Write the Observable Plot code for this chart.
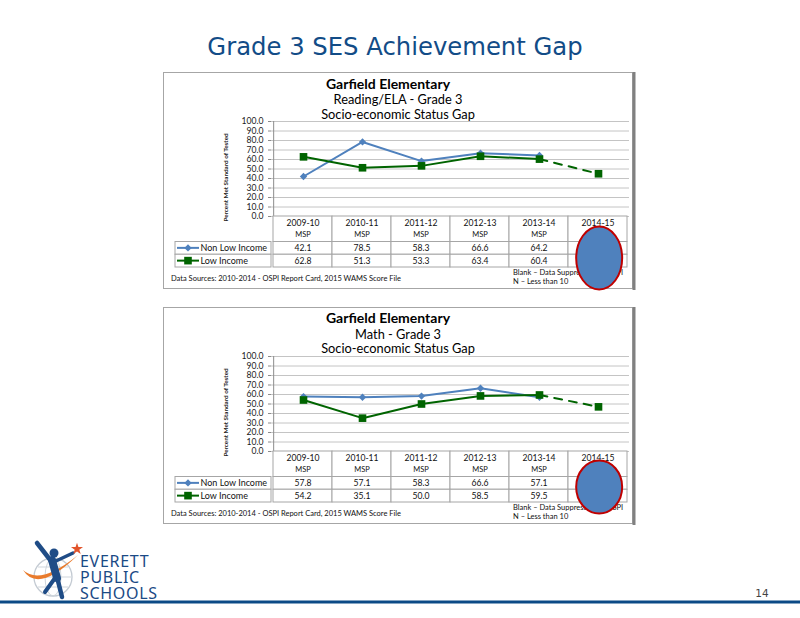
<!DOCTYPE html>
<html><head><meta charset="utf-8">
<script src="https://cdn.jsdelivr.net/npm/d3@7"></script>
<script src="https://cdn.jsdelivr.net/npm/@observablehq/plot@0.6"></script>
<style>
html,body{margin:0;padding:0;background:#fff;}
#page{position:relative;width:800px;height:618px;overflow:hidden;background:#fff;}
#page svg{position:absolute;}
</style></head><body><div id="page"></div>
<script>
// ---------- data ----------
const years = ["2009-10", "2010-11", "2011-12", "2012-13", "2013-14", "2014-15"];
const testNames = ["MSP", "MSP", "MSP", "MSP", "MSP", ""];
const seriesNames = ["Non Low Income", "Low Income"];
const readingNonLow = [42.1, 78.5, 58.3, 66.6, 64.2, null];
const readingLow = [62.8, 51.3, 53.3, 63.4, 60.4, 45.0];
const mathNonLow = [57.8, 57.1, 58.3, 66.6, 57.1, null];
const mathLow = [54.2, 35.1, 50.0, 58.5, 59.5, 47.0];
const yTicks = [0, 10, 20, 30, 40, 50, 60, 70, 80, 90, 100];
const pageTitle = "Grade 3 SES Achievement Gap";
const school = "Garfield Elementary";
const subjects = ["Reading/ELA - Grade 3", "Math - Grade 3"];
const chartSubtitle = "Socio-economic Status Gap";
const yLabel = "Percent Met Standard of Tested";
const sourceNote = "Data Sources: 2010-2014 - OSPI Report Card, 2015 WAMS Score File";
const blankNotes = ["Blank \u2013 Data Suppressed by OSPI", "N \u2013 Less than 10"];
const pageNumber = "14";
const logoLines = ["EVERETT", "PUBLIC", "SCHOOLS"];

// ---------- style ----------
const BLUE = "#4F81BD", GREEN = "#006400", GRID = "#c4c4c4", AXIS = "#8c8c8c", CELL = "#a6a6a6";
const NAVY = "#124C87", FONT = "Lato, sans-serif";
const W = 472, L = 108, R = 466;

const page = d3.select("#page");
const bg = page.append("svg").attr("width", 800).attr("height", 618).style("left", "0px").style("top", "0px");

// page title
bg.append("text").attr("x", 395).attr("y", 54.5).attr("text-anchor", "middle")
  .style("font-family", "'DejaVu Sans'").style("font-size", "24.3px").attr("fill", NAVY).text(pageTitle);

// bottom rule & page number
bg.append("rect").attr("x", 0).attr("y", 600.5).attr("width", 800).attr("height", 3).attr("fill", "#0B4A86");
bg.append("text").attr("x", 762).attr("y", 597).attr("text-anchor", "middle")
  .style("font-family", "'DejaVu Sans'").style("font-size", "10.5px").attr("fill", "#444").text(pageNumber);

// logo
const logo = bg.append("g");
logo.append("circle").attr("cx", 53).attr("cy", 577).attr("r", 19).attr("fill", "none").attr("stroke", "#c3cad2").attr("stroke-width", 1.3);
logo.append("ellipse").attr("cx", 53).attr("cy", 577).attr("rx", 8).attr("ry", 19).attr("fill", "none").attr("stroke", "#cfd5db").attr("stroke-width", 1);
logo.append("line").attr("x1", 35).attr("x2", 71).attr("y1", 577).attr("y2", 577).attr("stroke", "#cfd5db");
logo.append("line").attr("x1", 38).attr("x2", 68).attr("y1", 567).attr("y2", 567).attr("stroke", "#cfd5db");
logo.append("line").attr("x1", 38).attr("x2", 68).attr("y1", 587).attr("y2", 587).attr("stroke", "#cfd5db");
logo.append("path").attr("d", "M23,570 Q38,594 78,555 Q40,586 23,570 Z").attr("fill", "#E97B2C");
logo.append("circle").attr("cx", 54).attr("cy", 553).attr("r", 4.5).attr("fill", "#1F4C86");
logo.append("path").attr("d", "M37,543 L51,561").attr("stroke", "#1F4C86").attr("stroke-width", 4.5).attr("stroke-linecap", "round");
logo.append("path").attr("d", "M56,561 L73,553").attr("stroke", "#1F4C86").attr("stroke-width", 3.5).attr("stroke-linecap", "round");
logo.append("path").attr("d", "M52,560 L57,578").attr("stroke", "#1F4C86").attr("stroke-width", 8).attr("stroke-linecap", "round");
logo.append("path").attr("d", "M57,577 L62,597").attr("stroke", "#1F4C86").attr("stroke-width", 4.5).attr("stroke-linecap", "round");
logo.append("path").attr("d", "M55,578 L45,592").attr("stroke", "#1F4C86").attr("stroke-width", 4).attr("stroke-linecap", "round");
logo.append("path").attr("transform", "translate(77,549)").attr("d", d3.symbol(d3.symbolStar, 45)()).attr("fill", "#E2542B");
const logoText = logo.append("text").style("font-family", "'Noto Sans'").style("font-size", "16px")
  .style("letter-spacing", "0.7px").attr("fill", "#1B4A85");
logoLines.forEach((t, i) => {
  logoText.append("tspan").attr("x", 80).attr("y", 566.5 + i * 16).text(t);
});

const overlays = [];

function drawChart(top, subject, titleYs, nonLow, low, ellipseRy, ellipseCy) {
  // box, titles, notes
  const g = bg.append("g").attr("transform", `translate(163,${top})`);
  g.append("rect").attr("x", 0.5).attr("y", 0.5).attr("width", 469).attr("height", 216)
    .attr("fill", "white").attr("stroke", "#a6a6a6");
  g.append("rect").attr("x", 469.5).attr("y", 0).attr("width", 3).attr("height", 218).attr("fill", "#808080");
  const tt = g.append("text").attr("text-anchor", "middle").style("font-family", FONT).attr("fill", "#000");
  tt.append("tspan").attr("x", 225).attr("y", titleYs[0] + 5).style("font-size", "14px").style("font-weight", "bold").text(school);
  tt.append("tspan").attr("x", 235).attr("y", titleYs[1] + 4.5).style("font-size", "12.8px").text(subject);
  tt.append("tspan").attr("x", 235).attr("y", titleYs[2] + 4.5).style("font-size", "12.8px").text(chartSubtitle);
  g.append("text").attr("x", 8).attr("y", 206.5).attr("dy", "0.35em")
    .style("font-family", FONT).style("font-size", "7.5px").attr("fill", "#111").text(sourceNote);
  const bn = g.append("text").style("font-family", FONT).style("font-size", "7.5px").attr("fill", "#111");
  blankNotes.forEach((t, i) => {
    bn.append("tspan").attr("x", 350).attr("y", 203 + i * 8.7).text(t);
  });

  const rows = years.map((year, i) => ({year, test: testNames[i], nonLow: nonLow[i], low: low[i]}));
  const nl = rows.filter(d => d.nonLow != null);
  const lastReported = nl.length - 1;
  const lowSolid = rows.slice(0, lastReported + 1);
  const lowDash = rows.slice(lastReported);
  const step = (R - L) / years.length;

  const chart = Plot.plot({
    width: W, height: 145, marginTop: 49, marginBottom: 1, marginLeft: L, marginRight: W - R,
    x: {type: "point", domain: years, padding: 0.5, axis: null},
    y: {domain: [0, 100], axis: null},
    style: {background: "transparent", fontFamily: FONT, overflow: "visible"},
    marks: [
      Plot.ruleY(yTicks, {stroke: GRID}),
      Plot.ruleX([years[0]], {y1: 0, y2: 100, dx: -step / 2, stroke: AXIS}),
      Plot.axisY(yTicks, {tickFormat: d3.format(".1f"), tickSize: 3, tickPadding: 5, stroke: AXIS, fill: "#1a1a1a", fontSize: 8.6, label: null}),
      Plot.text([yLabel], {text: d => d, frameAnchor: "left", textAnchor: "middle", rotate: -90, dx: -46, dy: 8.5, fontSize: 6.3, fontWeight: "bold", fill: "#1a1a1a"}),
      Plot.line(nl, {x: "year", y: "nonLow", stroke: BLUE, strokeWidth: 2}),
      Plot.line(lowSolid, {x: "year", y: "low", stroke: GREEN, strokeWidth: 2}),
      Plot.line(lowDash, {x: "year", y: "low", stroke: GREEN, strokeWidth: 2, strokeDasharray: "8,7"}),
      Plot.dot(nl, {x: "year", y: "nonLow", symbol: "diamond2", r: 3.3, fill: BLUE}),
      Plot.dot(rows, {x: "year", y: "low", symbol: "square", r: 4.3, fill: GREEN})
    ]
  });
  chart.style.left = "163px"; chart.style.top = top + "px";
  page.node().appendChild(chart);

  // data table
  const cells = seriesNames.flatMap((name, s) => rows.map((d, i) => ({
    name, s, year: d.year, v: s === 0 ? d.nonLow : d.low, shown: i <= lastReported
  })));
  const table = Plot.plot({
    width: W, height: 53, marginTop: 0, marginBottom: 2, marginLeft: L, marginRight: W - R,
    x: {type: "band", domain: years, padding: 0, axis: null},
    y: {domain: [0, 4], reverse: true, axis: null},
    style: {background: "transparent", fontFamily: FONT, overflow: "visible"},
    marks: [
      Plot.barY(rows, {x: "year", y1: 0, y2: 2, fill: "white", stroke: CELL}),
      Plot.barY(cells, {x: "year", y1: d => 2 + d.s, y2: d => 3 + d.s, fill: "white", stroke: CELL}),
      Plot.text(rows, {x: "year", y: 0.55, text: "year", fontSize: 8.6, fill: "#111"}),
      Plot.text(rows, {x: "year", y: 1.45, text: "test", fontSize: 7.5, fill: "#111"}),
      Plot.text(cells.filter(d => d.shown), {x: "year", y: d => 2.5 + d.s, text: d => d3.format(".1f")(d.v), fontSize: 8.6, fill: "#111"})
    ]
  });
  table.style.left = "163px"; table.style.top = (top + 144) + "px";
  page.node().appendChild(table);

  const ty = table.scale("y");
  const lg = d3.select(table).append("g").attr("text-anchor", "start");
  seriesNames.forEach((name, s) => {
    const y1 = ty.apply(2 + s), y2 = ty.apply(3 + s), ym = (y1 + y2) / 2;
    const color = s === 0 ? BLUE : GREEN;
    lg.append("rect").attr("x", 12).attr("y", y1).attr("width", L - 12).attr("height", y2 - y1)
      .attr("fill", "white").attr("stroke", CELL);
    lg.append("line").attr("x1", 14).attr("x2", 36).attr("y1", ym).attr("y2", ym)
      .attr("stroke", color).attr("stroke-width", 2);
    lg.append("path").attr("transform", `translate(25,${ym})`)
      .attr("d", d3.symbol(s === 0 ? d3.symbolDiamond2 : d3.symbolSquare, s === 0 ? 3.3 * 3.3 * Math.PI : 4.3 * 4.3 * Math.PI)())
      .attr("fill", color);
    lg.append("text").attr("x", 37.5).attr("y", ym).attr("dy", "0.35em").attr("text-anchor", "start")
      .style("font-family", FONT).style("font-size", "9px").attr("fill", "#111").text(name);
  });

  const stepCenter = L + step * (years.length - 0.5);
  overlays.push({cx: 163 + stepCenter, cy: top + ellipseCy, rx: 23, ry: ellipseRy});
}

drawChart(72, subjects[0], [11.5, 27, 42], readingNonLow, readingLow, 31.5, 186);
drawChart(307, subjects[1], [10.8, 27, 41.5], mathNonLow, mathLow, 26.5, 180);

const ov = page.append("svg").attr("width", 800).attr("height", 618).style("left", "0px").style("top", "0px");
overlays.forEach(o => {
  ov.append("ellipse").attr("cx", o.cx).attr("cy", o.cy).attr("rx", o.rx).attr("ry", o.ry)
    .attr("fill", "#4F81BD").attr("stroke", "#C00000").attr("stroke-width", 2);
});
</script></body></html>
